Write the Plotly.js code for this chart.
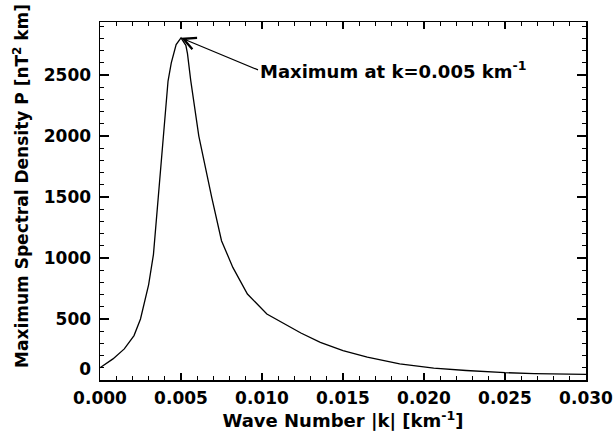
<!DOCTYPE html>
<html>
<head>
<meta charset="utf-8">
<script src="https://cdn.plot.ly/plotly-3.0.1.min.js"></script>
<style>html,body{margin:0;padding:0;background:#fff;}#chart{width:616px;height:443px;}</style>
</head>
<body>
<div id="chart"></div>
<script>
// Wave number |k| [km^-1]
const waveNumber = [0.0000, 0.0008, 0.0015, 0.0021, 0.0025, 0.0030, 0.0033, 0.0036, 0.0039, 0.0041, 0.0042, 0.0044, 0.0047, 0.0050, 0.0053, 0.0054, 0.0056, 0.0061, 0.0065, 0.0069, 0.0075, 0.0082, 0.0091, 0.0103, 0.0124, 0.0136, 0.0150, 0.0165, 0.0185, 0.0206, 0.0226, 0.0250, 0.0268, 0.0300];
// Maximum spectral density P [nT^2 km]
const spectralDensity = [100, 173, 255, 364, 500, 780, 1030, 1500, 2000, 2290, 2451, 2600, 2750, 2805, 2744, 2676, 2457, 2000, 1746, 1496, 1142, 923, 705, 541, 385, 309, 241, 187, 133, 97, 78, 60, 53, 46];
const xTickVals = [0.000, 0.005, 0.010, 0.015, 0.020, 0.025, 0.030];
const xTickText = ["0.000", "0.005", "0.010", "0.015", "0.020", "0.025", "0.030"];
const yTickVals = [0, 500, 1000, 1500, 2000, 2500];
const yTickText = ["0<br> ", "500", "1000", "1500", "2000", "2500"];
const annotationText = "Maximum at k=0.005 km<sup>-1</sup>";
const xTitle = "Wave Number |k| [km<sup>-1</sup>]";
const yTitle = "Maximum Spectral Density P [nT<sup>2</sup> km]";

let iMax = 0;
for (let i = 1; i < spectralDensity.length; i++) if (spectralDensity[i] > spectralDensity[iMax]) iMax = i;

const FONT = "DejaVu Sans";
const trace = {
  x: waveNumber, y: spectralDensity, type: "scatter", mode: "lines",
  line: {color: "#000", width: 1.3}, hoverinfo: "skip"
};
const axisCommon = {
  showgrid: false, zeroline: false, showline: true, linecolor: "#000", linewidth: 1.5,
  mirror: "ticks", ticks: "inside", tickcolor: "#000", tickwidth: 1.2,
  tickfont: {family: FONT, size: 17, color: "#000", weight: "bold"}
};
const layout = {
  width: 616, height: 443,
  margin: {l: 100, r: 30, t: 22, b: 63},
  paper_bgcolor: "#fff", plot_bgcolor: "#fff",
  showlegend: false,
  xaxis: Object.assign({}, axisCommon, {
    range: [0, 0.030], tickvals: xTickVals, ticktext: xTickText, ticklen: 7,
    ticklabelstandoff: 2,
    minor: {dtick: 0.001, ticks: "inside", ticklen: 4, tickcolor: "#000", tickwidth: 1},
    title: {text: xTitle, font: {family: FONT, size: 18, color: "#000", weight: "bold"}, standoff: 1}
  }),
  yaxis: Object.assign({}, axisCommon, {
    range: [0, 2935], tickvals: yTickVals, ticktext: yTickText, ticklen: 9,
    ticklabelstandoff: 4,
    minor: {dtick: 100, ticks: "inside", ticklen: 4, tickcolor: "#000", tickwidth: 1}
  }),
  annotations: [{
    x: waveNumber[iMax], y: spectralDensity[iMax], xref: "x", yref: "y",
    text: annotationText, showarrow: true, arrowhead: 5, arrowsize: 2, arrowwidth: 1.2,
    arrowcolor: "#000", ax: 77, ay: 32, xanchor: "left", yanchor: "middle",
    font: {family: FONT, size: 18, color: "#000", weight: "bold"}
  }, {
    x: -0.1626, y: 0.542, xref: "paper", yref: "paper", xanchor: "center", yanchor: "middle",
    text: yTitle, textangle: -90, showarrow: false,
    font: {family: FONT, size: 17, color: "#000", weight: "bold"}
  }]
};
Plotly.newPlot("chart", [trace], layout, {displayModeBar: false, staticPlot: true});
</script>
</body>
</html>
